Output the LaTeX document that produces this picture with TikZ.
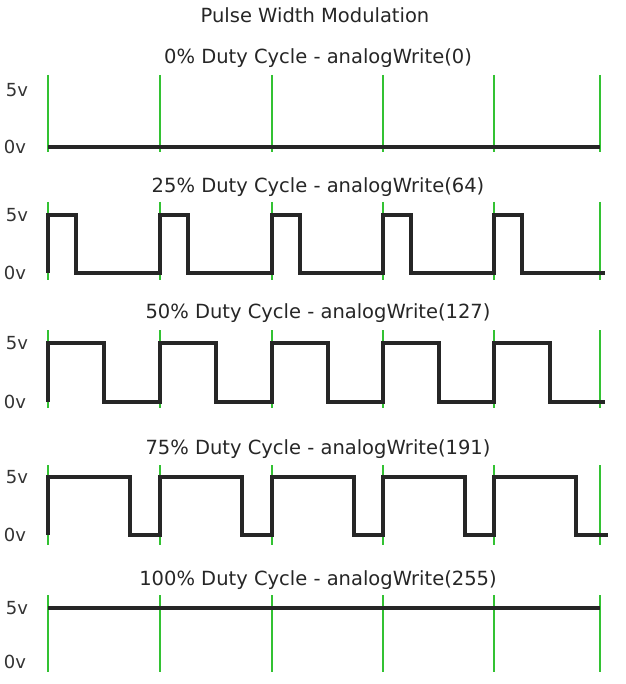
\documentclass[tikz,border=0pt]{standalone}
\usepackage{fontspec}
\setmainfont{DejaVu Sans}
\begin{document}
\begin{tikzpicture}[x=1pt,y=-1pt,
  grn/.style={draw=green!70!black!80, line width=1.2pt},
  wave/.style={draw=black!85, line width=3.8pt, line join=miter},
  lbl/.style={font=\fontsize{18}{20}\selectfont, text=black!80, inner sep=0pt},
  ttl/.style={font=\fontsize{19.5}{22}\selectfont, text=black!85, inner sep=0pt}]
\useasboundingbox (0,0) rectangle (625,684);
\fill[white] (0,0) rectangle (625,684);
\node[ttl] (t0) at (315,15) {Pulse Width Modulation};
\foreach \ty/\ga/\gb/\hi/\lo/\txt [count=\r] in {
 58/75/152/90/147/{0\% Duty Cycle - analogWrite(0)},
 187/202/280/215/273/{25\% Duty Cycle - analogWrite(64)},
 313/330/408/343/402/{50\% Duty Cycle - analogWrite(127)},
 449/465/545/477/535/{75\% Duty Cycle - analogWrite(191)},
 580/595/672/608/662/{100\% Duty Cycle - analogWrite(255)}}{
  \node[ttl] (tt\r) at (318,\ty) {\txt};
  \node[lbl] (h\r) at (17,\hi) {5v};
  \node[lbl] (l\r) at (15,\lo) {0v};
  \foreach \gx in {48,160,272,383,494,600}
    \draw[grn] (\gx,\ga) -- (\gx,\gb);
}
\draw[wave] (48,147) -- (600,147);
\draw[wave] (48,273) \foreach \p in {48,160,272,383,494}{ -- (\p,273) -- (\p,215) -- ({\p+28},215) -- ({\p+28},273)} -- (605,273);
\draw[wave] (48,402) \foreach \p in {48,160,272,383,494}{ -- (\p,402) -- (\p,343) -- ({\p+56},343) -- ({\p+56},402)} -- (605,402);
\draw[wave] (48,535) \foreach \p in {48,160,272,383,494}{ -- (\p,535) -- (\p,477) -- ({\p+82},477) -- ({\p+82},535)} -- (608,535);
\draw[wave] (48,608) -- (600,608);
\end{tikzpicture}
\end{document}
